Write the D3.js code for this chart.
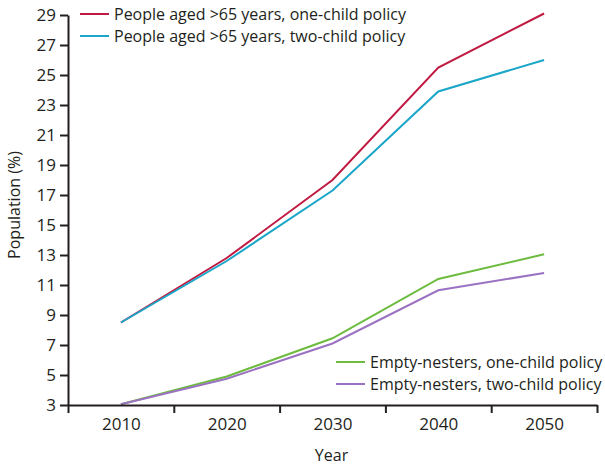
<!DOCTYPE html>
<html>
<head>
<meta charset="utf-8">
<script src="https://cdn.jsdelivr.net/npm/d3@7"></script>
<style>
  body { margin: 0; background: #fff; }
  svg { display: block; }
  text { font-family: "Open Sans", sans-serif; fill: #231f20; }
</style>
</head>
<body>
<div id="chart"></div>
<script>
// Data
const years = [2010, 2020, 2030, 2040, 2050];
const agedOneChild = [8.5, 12.8, 18.0, 25.5, 29.1];
const agedTwoChild = [8.5, 12.6, 17.3, 23.9, 26.0];
const nestersOneChild = [3.05, 4.9, 7.45, 11.4, 13.05];
const nestersTwoChild = [3.05, 4.75, 7.1, 10.65, 11.8];
const yTicks = [3, 5, 7, 9, 11, 13, 15, 17, 19, 21, 23, 25, 27, 29];
const xEdges = [2005, 2015, 2025, 2035, 2045, 2055];

const series = [
  { name: 'People aged >65 years, one-child policy', values: agedOneChild, color: '#c01a42' },
  { name: 'People aged >65 years, two-child policy', values: agedTwoChild, color: '#1aa6c8' },
  { name: 'Empty-nesters, one-child policy', values: nestersOneChild, color: '#6dbb3f' },
  { name: 'Empty-nesters, two-child policy', values: nestersTwoChild, color: '#9b72c2' },
];

const W = 605, H = 466;
const margin = { top: 15, right: 8, bottom: 61, left: 68 };
const width = W - margin.left - margin.right;
const height = H - margin.top - margin.bottom;

const x = d3.scaleLinear().domain([2005, 2055]).range([0, width]);
const y = d3.scaleLinear().domain([3, 29]).range([height, 0]);

const svg = d3.select('#chart')
  .append('svg')
  .attr('width', W)
  .attr('height', H);

const g = svg.append('g')
  .attr('transform', `translate(${margin.left}, ${margin.top})`);

// Lines
const line = d3.line()
  .x((d, i) => x(years[i]))
  .y(d => y(d));

g.selectAll('path.series')
  .data(series)
  .enter()
  .append('path')
  .attr('class', 'series')
  .attr('fill', 'none')
  .attr('stroke', d => d.color)
  .attr('stroke-width', 2)
  .attr('d', d => line(d.values));

// X axis: tick marks at the decade edges, labels in the middle
const xAxis = g.append('g')
  .attr('transform', `translate(0, ${height})`)
  .call(d3.axisBottom(x).tickValues(xEdges).tickFormat('').tickSize(8).tickSizeOuter(0));

g.append('g')
  .attr('transform', `translate(0, ${height})`)
  .call(d3.axisBottom(x).tickValues(years).tickFormat(d3.format('d')).tickSize(0).tickPadding(13))
  .call(a => a.select('.domain').remove())
  .selectAll('text')
  .attr('font-size', 17);

// Y axis
const yAxis = g.append('g')
  .call(d3.axisLeft(y).tickValues(yTicks).tickSize(8).tickSizeOuter(0).tickPadding(4));
yAxis.selectAll('text').attr('font-size', 17);

[xAxis, yAxis].forEach(a => {
  a.select('.domain').attr('stroke', '#231f20').attr('stroke-width', 2);
  a.selectAll('.tick line').attr('stroke', '#231f20').attr('stroke-width', 2);
});

// Axis titles
svg.append('text')
  .attr('x', margin.left + x(2030) - 1)
  .attr('y', 461)
  .attr('text-anchor', 'middle')
  .attr('font-size', 16)
  .text('Year');

svg.append('text')
  .attr('transform', `translate(20, ${margin.top + y(16) - 5}) rotate(-90)`)
  .attr('text-anchor', 'middle')
  .attr('font-size', 16)
  .text('Population (%)');

// Legends
const legendTop = svg.append('g').attr('transform', 'translate(80, 14)');
const legendBottom = svg.append('g').attr('transform', 'translate(336, 362)');

function legend(sel, items) {
  const row = sel.selectAll('g')
    .data(items)
    .enter()
    .append('g')
    .attr('transform', (d, i) => `translate(0, ${i * 22})`);
  row.append('line')
    .attr('x1', 0)
    .attr('x2', 29)
    .attr('stroke', d => d.color)
    .attr('stroke-width', 2);
  row.append('text')
    .attr('x', 34)
    .attr('dy', '0.35em')
    .attr('font-size', 16)
    .text(d => d.name);
}

legend(legendTop, series.slice(0, 2));
legend(legendBottom, series.slice(2));
</script>
</body>
</html>
